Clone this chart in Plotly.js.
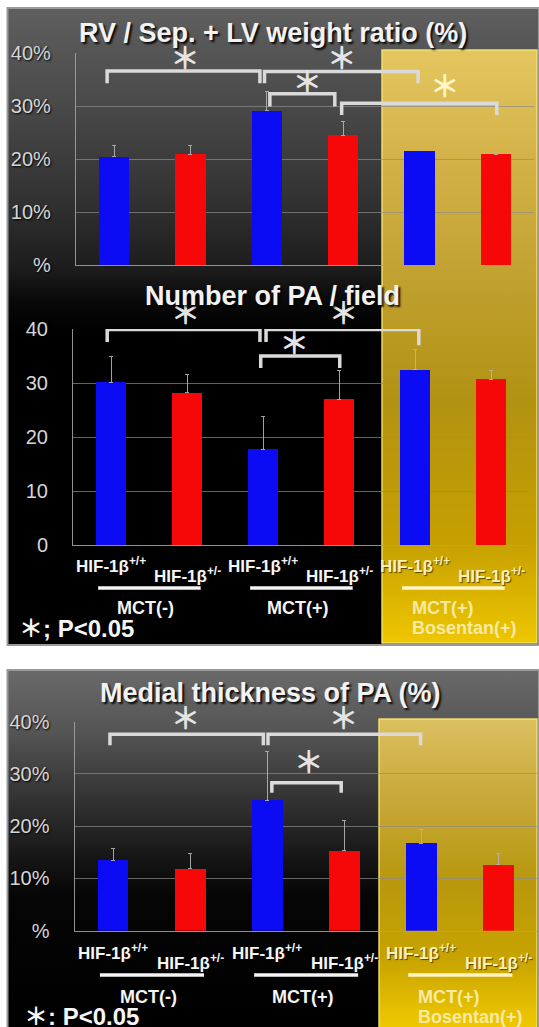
<!DOCTYPE html>
<html><head><meta charset="utf-8">
<script src="https://cdn.plot.ly/plotly-3.0.1.min.js"></script>
<style>html,body{margin:0;padding:0;background:#fff;}#chart{width:539px;height:1027px;}</style>
</head><body><div id="chart"></div>
<script>
// ---- data ----
const categories = ['HIF-1β+/+', 'HIF-1β+/-', 'HIF-1β+/+', 'HIF-1β+/-', 'HIF-1β+/+', 'HIF-1β+/-'];
const groups = ['MCT(-)', 'MCT(+)', 'MCT(+)\nBosentan(+)'];
const chartTitles = ['RV / Sep. + LV weight ratio (%)', 'Number of PA / field', 'Medial thickness of PA (%)'];
const tickValues = [0, 10, 20, 30, 40];
const tickTextPct = ['%', '10%', '20%', '30%', '40%'];
const tickTextNum = ['0', '10', '20', '30', '40'];

const rvRatio = [20.4, 20.9, 29.1, 24.5, 21.6, 20.9];
const rvRatioErr = [2.1, 1.6, 3.6, 2.5, NaN, NaN];
const paNumber = [30.1, 28.2, 17.7, 27.0, 32.5, 30.7];
const paNumberErr = [4.9, 3.4, 6.1, 5.4, 3.7, 1.7];
const medialThick = [13.5, 11.9, 25.0, 15.3, 16.7, 12.6];
const medialThickErr = [2.3, 2.9, 9.3, 5.8, 2.6, 2.2];

// significance brackets: [from, to, top, left leg end, right leg end] (category index / value units)
const rvBrackets = [[-0.09, 1.91, 36.6, 34.3, 34.3], [1.97, 3.98, 36.5, 34.3, 34.3], [2.04, 2.89, 32.3, 29.9, 29.9], [2.98, 5.01, 30.5, 28.3, 28.3]];
const rvStars = [[0.93, 38.4], [2.98, 38.4], [2.53, 33.9], [4.33, 33.1]];
const paBrackets = [[-0.05, 1.96, 39.9, 37.6, 37.6], [2.04, 4.05, 39.9, 37.6, 37.0], [1.97, 3.01, 35.0, 32.8, 32.8]];
const paStars = [[0.98, 42.3], [3.06, 42.3], [2.41, 36.8]];
const mtBrackets = [[-0.04, 1.95, 37.6, 35.5, 35.5], [2.01, 3.99, 37.6, 35.5, 35.5], [2.06, 2.96, 28.3, 26.4, 26.4]];
const mtStars = [[0.94, 40.1], [2.99, 40.1], [2.54, 31.6]];
const pNoteTop = '＊; P<0.05';
const pNoteBottom = '＊: P<0.05';

// ---- layout helpers ----
const W = 539, H = 1027;
const px = v => v / W;
const py = v => 1 - v / H;
const BLUE = '#0c0cf4', RED = '#f60808';
const FONT = 'Liberation Sans, Arial, Noto Sans CJK JP, sans-serif';
const CJK = 'Noto Sans CJK JP, Noto Sans CJK SC, DejaVu Sans, sans-serif';

function gradSvg(stops) {
  const s = stops.map(([o, c]) => `<stop offset="${o}" stop-color="${c}"/>`).join('');
  const svg = `<svg xmlns="http://www.w3.org/2000/svg" width="100" height="100" viewBox="0 0 100 100" preserveAspectRatio="none"><defs><linearGradient id="g" x1="0" y1="0" x2="0" y2="1">${s}</linearGradient></defs><rect width="100" height="100" fill="url(#g)"/></svg>`;
  return 'data:image/svg+xml;charset=utf-8,' + encodeURIComponent(svg);
}
function bgImage(x0, y0, x1, y1, stops) {
  return { source: gradSvg(stops), xref: 'paper', yref: 'paper', x: px(x0), y: py(y0),
    sizex: (x1 - x0) / W, sizey: (y1 - y0) / H, xanchor: 'left', yanchor: 'top', sizing: 'stretch', layer: 'below' };
}

const charts = [
  { ax: '', sax: '4', vals: rvRatio, errs: rvRatioErr, br: rvBrackets, stars: rvStars, ticks: tickTextPct,
    xd: [75.8, 534.2], yd: [265, 53], title: [272.5, 33] },
  { ax: '2', sax: '5', vals: paNumber, errs: paNumberErr, br: paBrackets, stars: paStars, ticks: tickTextNum,
    xd: [73, 529], yd: [545, 329], title: [273, 296],
    labels: { pp: 565, pm: 575, line: 588, g1: 608, g2: 628, note: [17, 628, pNoteTop] } },
  { ax: '3', sax: '6', vals: medialThick, errs: medialThickErr, br: mtBrackets, stars: mtStars, ticks: tickTextPct,
    xd: [74.5, 537], yd: [930.7, 721.7], title: [270, 693],
    labels: { pp: 951.7, pm: 961.7, line: 975, g1: 996.7, g2: 1016.5, note: [22, 1016, pNoteBottom] } }
];

const data = [];
const annotations = [];
const shapes = [];
const layout = {
  width: W, height: H, margin: { l: 0, r: 0, t: 0, b: 0 },
  paper_bgcolor: '#ffffff', plot_bgcolor: 'rgba(0,0,0,0)',
  showlegend: false, bargap: 0,
  images: [
    bgImage(7, 8, 539, 645, [[0, '#5f5f5f'], [0.14, '#4b4b4b'], [0.30, '#323232'], [0.41, '#1c1c1c'], [0.46, '#090909'], [0.51, '#000000'], [1, '#000000']]),
    bgImage(382, 50, 537, 643, [[0, '#e4c660'], [0.17, '#d4b44a'], [0.37, '#c2a232'], [0.59, '#b29212'], [0.83, '#c6a000'], [1, '#eec600']]),
    bgImage(7, 670, 539, 1027, [[0, '#6a6a6a'], [0.17, '#555555'], [0.36, '#333333'], [0.53, '#151515'], [0.64, '#050505'], [1, '#000000']]),
    bgImage(379, 719, 537, 1027, [[0, '#dcc060'], [0.26, '#c8a838'], [0.52, '#b8980e'], [0.78, '#c8a400'], [1, '#f0c800']])
  ]
};

// frames
shapes.push({ type: 'rect', xref: 'paper', yref: 'paper', x0: px(7.5), x1: px(539), y0: py(8), y1: py(645), line: { color: '#9a9a9a', width: 2 }, layer: 'below' });
shapes.push({ type: 'rect', xref: 'paper', yref: 'paper', x0: px(7.5), x1: px(539), y0: py(670), y1: py(1028), line: { color: '#9a9a9a', width: 2 }, layer: 'below' });
shapes.push({ type: 'rect', xref: 'paper', yref: 'paper', x0: px(382), x1: px(537), y0: py(50), y1: py(643), line: { color: 'rgba(248,228,110,0.9)', width: 1.5 }, layer: 'below' });
shapes.push({ type: 'rect', xref: 'paper', yref: 'paper', x0: px(379), x1: px(537), y0: py(719), y1: py(1028), line: { color: 'rgba(248,228,110,0.9)', width: 1.5 }, layer: 'below' });

charts.forEach((c, ci) => {
  const xa = 'x' + c.ax, ya = 'y' + c.ax, sa = 'y' + c.sax;
  layout['xaxis' + c.ax] = { domain: [px(c.xd[0]), px(c.xd[1])], range: [-0.5, 5.5], anchor: ya,
    showgrid: false, zeroline: false, showline: true, linecolor: 'rgba(160,160,160,0.9)', linewidth: 1,
    showticklabels: false, ticks: '', fixedrange: true };
  layout['yaxis' + c.ax] = { domain: [py(c.yd[0]), py(c.yd[1])], range: [0, 40], anchor: xa,
    tickvals: tickValues, ticktext: c.ticks, showgrid: true, gridcolor: 'rgba(140,140,140,0.7)', gridwidth: 1,
    showline: true, linecolor: 'rgba(160,160,160,0.9)', linewidth: 1, zeroline: false, ticks: '',
    ticklabelstandoff: 20, fixedrange: true,
    tickfont: { family: FONT, size: 20, color: '#d6d6d6', shadow: '1px 1px 2px #000' } };
  // hidden companion axis with the same scale, extended upward so the stars above 40 stay visible
  const span = c.yd[0] - c.yd[1], extra = 40;
  layout['yaxis' + c.sax] = { domain: [py(c.yd[0]), py(c.yd[1] - extra)], range: [0, 40 * (span + extra) / span],
    anchor: xa, visible: false, fixedrange: true };

  // bars: +/+ (blue) and +/- (red)
  [[0, 2, 4], [1, 3, 5]].forEach((idx, k) => {
    data.push({ type: 'bar', x: idx, y: idx.map(i => c.vals[i]), width: 0.4, xaxis: xa, yaxis: ya,
      name: categories[idx[0]], marker: { color: k ? RED : BLUE, line: { width: 0 } },
      error_y: { type: 'data', symmetric: false, array: idx.map(i => c.errs[i]), arrayminus: idx.map(() => 0),
        color: 'rgba(180,180,180,0.9)', thickness: 1, width: 2 },
      hoverinfo: 'skip', showlegend: false });
  });

  // brackets
  c.br.forEach(([a, b, top, lb, rb]) => {
    data.push({ type: 'scatter', mode: 'lines', x: [a, a, b, b], y: [lb, top, top, rb], xaxis: xa, yaxis: ya,
      line: { color: '#dadada', width: 3.5 }, cliponaxis: false, hoverinfo: 'skip', showlegend: false });
  });
  data.push({ type: 'scatter', mode: 'text', x: c.stars.map(s => s[0]), y: c.stars.map(s => s[1]),
    text: c.stars.map(() => '＊'), textposition: 'middle center', xaxis: xa, yaxis: sa, cliponaxis: false,
    textfont: { family: CJK, size: 30, weight: 'bold', color: c.stars.map(s => s[0] > 3.6 ? '#fff6c8' : '#e4e4e4') },
    hoverinfo: 'skip', showlegend: false });

  // title
  annotations.push({ xref: 'paper', yref: 'paper', x: px(c.title[0]), y: py(c.title[1]), text: chartTitles[ci],
    showarrow: false, xanchor: 'center', yanchor: 'middle',
    font: { family: FONT, size: 27, weight: 'bold', color: '#f2f2f2', shadow: '2px 2px 2px rgba(0,0,0,0.9)' } });

  // category / group labels
  if (c.labels) {
    const L = c.labels;
    categories.forEach((cat, i) => {
      const txt = cat.replace(/(\+\/[+-])$/, '<sup>$1</sup>');
      annotations.push({ xref: xa, yref: 'paper', x: i, y: py(i % 2 ? L.pm : L.pp), text: txt, showarrow: false,
        xanchor: 'center', yanchor: 'middle',
        font: { family: FONT, size: 17, weight: 'bold', color: i >= 4 ? '#fbf0b4' : '#f6f6f6', shadow: '1px 1px 1px rgba(0,0,0,0.6)' } });
    });
    groups.forEach((g, gi) => {
      const inYellow = gi === 2;
      shapes.push({ type: 'line', xref: xa, yref: 'paper', x0: 2 * gi - 0.17, x1: 2 * gi + 1.18, y0: py(L.line), y1: py(L.line),
        line: { color: inYellow ? '#fff4c4' : '#f4f4f4', width: 3.5 } });
      const lines = g.split('\n');
      lines.forEach((ln, li) => {
        annotations.push({ xref: xa, yref: 'paper', x: lines.length > 1 ? 2 * gi - 0.07 : 2 * gi + 0.46,
          y: py(li ? L.g2 : L.g1), text: ln, showarrow: false, xanchor: lines.length > 1 ? 'left' : 'center', yanchor: 'middle',
          font: { family: FONT, size: 18, weight: 'bold', color: inYellow ? '#f8eaa4' : '#f4f4f4' } });
      });
    });
    annotations.push({ xref: 'paper', yref: 'paper', x: px(L.note[0]), y: py(L.note[1]), text: L.note[2], showarrow: false,
      xanchor: 'left', yanchor: 'middle', font: { family: FONT, size: 24, weight: 'bold', color: '#f6f6f6' } });
  }
});

layout.annotations = annotations;
layout.shapes = shapes;
Plotly.newPlot('chart', data, layout, { displayModeBar: false, staticPlot: true });
</script>
</body></html>
